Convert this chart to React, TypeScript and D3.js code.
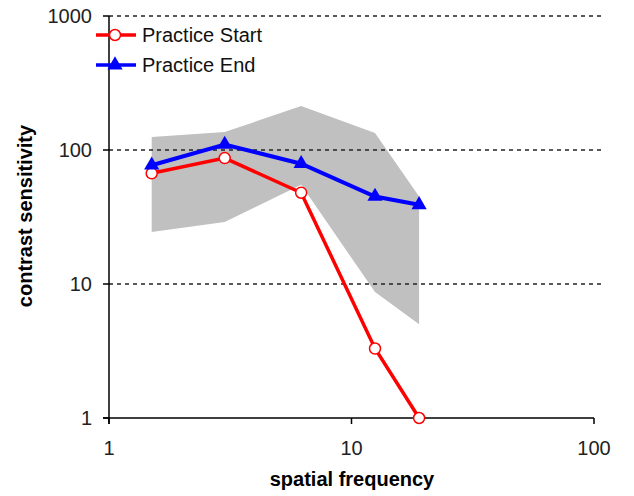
import React, { useEffect, useRef } from "react";
import * as d3 from "d3";

// spatial frequency (cycles/deg) of the tested conditions
const frequencies = [1.5, 3, 6.2, 12.5, 19];
const practiceStart = [67, 87, 48, 3.3, 1.0];
const practiceEnd = [77, 110, 79, 45, 39];
// grey normal range band
const bandUpper = [125, 136, 213, 134, 45];
const bandLower = [24.4, 29, 55, 8.7, 5.0];

const xTicks = [1, 10, 100];
const yTicks = [1, 10, 100, 1000];
const gridTicks = [10, 100, 1000];

const WIDTH = 634;
const HEIGHT = 496;

export default function App() {
  const svgRef = useRef<SVGSVGElement | null>(null);

  useEffect(() => {
    const svg = d3.select(svgRef.current);
    svg.selectAll("*").remove();

    const font = "'Liberation Sans', Arial, sans-serif";
    const x = d3.scaleLog().domain([1, 100]).range([109, 594]);
    const y = d3.scaleLog().domain([1, 1000]).range([418, 16]);

    // band
    const area = d3
      .area<number>()
      .x((_, i) => x(frequencies[i]))
      .y0((_, i) => y(bandLower[i]))
      .y1((d) => y(d));
    svg
      .append("path")
      .attr("d", area(bandUpper))
      .attr("fill", "#c0c0c0");

    // gridlines
    svg
      .append("g")
      .selectAll("line")
      .data(gridTicks)
      .join("line")
      .attr("x1", x(1))
      .attr("x2", 602)
      .attr("y1", (d) => y(d))
      .attr("y2", (d) => y(d))
      .attr("stroke", "#222")
      .attr("stroke-width", 1.5)
      .attr("stroke-dasharray", "4,4");

    // axes
    const axes = svg.append("g").attr("stroke", "#000").attr("stroke-width", 1.5);
    axes
      .append("line")
      .attr("x1", x(1) - 6)
      .attr("x2", x(100))
      .attr("y1", y(1))
      .attr("y2", y(1));
    axes
      .append("line")
      .attr("x1", x(1))
      .attr("x2", x(1))
      .attr("y1", y(1000))
      .attr("y2", y(1) + 6);
    axes
      .selectAll(".xt")
      .data(xTicks)
      .join("line")
      .attr("x1", (d) => x(d))
      .attr("x2", (d) => x(d))
      .attr("y1", y(1))
      .attr("y2", y(1) + 6);
    axes
      .selectAll(".yt")
      .data(yTicks)
      .join("line")
      .attr("x1", x(1) - 6)
      .attr("x2", x(1))
      .attr("y1", (d) => y(d))
      .attr("y2", (d) => y(d));

    svg
      .append("g")
      .selectAll("text")
      .data(xTicks)
      .join("text")
      .attr("x", (d) => x(d))
      .attr("y", 455)
      .attr("text-anchor", "middle")
      .attr("font-family", font)
      .attr("font-size", 20)
      .attr("fill", "#222")
      .text((d) => d);

    svg
      .append("g")
      .selectAll("text")
      .data(yTicks)
      .join("text")
      .attr("x", 92)
      .attr("y", (d) => y(d) + 7)
      .attr("text-anchor", "end")
      .attr("font-family", font)
      .attr("font-size", 20)
      .attr("fill", "#222")
      .text((d) => d);

    svg
      .append("text")
      .attr("x", 352)
      .attr("y", 486)
      .attr("text-anchor", "middle")
      .attr("font-family", font)
      .attr("font-size", 20)
      .attr("font-weight", "bold")
      .text("spatial frequency");

    svg
      .append("text")
      .attr("transform", "translate(32,216) rotate(-90)")
      .attr("text-anchor", "middle")
      .attr("font-family", font)
      .attr("font-size", 20)
      .attr("font-weight", "bold")
      .text("contrast sensitivity");

    const line = d3
      .line<number>()
      .x((_, i) => x(frequencies[i]))
      .y((d) => y(d));

    // practice start
    svg
      .append("path")
      .attr("d", line(practiceStart))
      .attr("fill", "none")
      .attr("stroke", "#ff0000")
      .attr("stroke-width", 3.5);
    svg
      .append("g")
      .selectAll("circle")
      .data(practiceStart)
      .join("circle")
      .attr("cx", (_, i) => x(frequencies[i]))
      .attr("cy", (d) => y(d))
      .attr("r", 5.5)
      .attr("fill", "#fff")
      .attr("stroke", "#ff0000")
      .attr("stroke-width", 1.5);

    // practice end
    const tri = d3.symbol().type(d3.symbolTriangle).size(100);
    svg
      .append("path")
      .attr("d", line(practiceEnd))
      .attr("fill", "none")
      .attr("stroke", "#0000ff")
      .attr("stroke-width", 4);
    svg
      .append("g")
      .selectAll("path")
      .data(practiceEnd)
      .join("path")
      .attr("transform", (d, i) => `translate(${x(frequencies[i])},${y(d)})`)
      .attr("d", tri() as string)
      .attr("fill", "#0000ff");

    // legend
    const legend = svg.append("g");
    const items = [
      { label: "Practice Start", color: "#ff0000", y: 35, marker: "circle" },
      { label: "Practice End", color: "#0000ff", y: 65, marker: "triangle" }
    ];
    items.forEach((item) => {
      legend
        .append("line")
        .attr("x1", 96)
        .attr("x2", 136)
        .attr("y1", item.y)
        .attr("y2", item.y)
        .attr("stroke", item.color)
        .attr("stroke-width", 3.5);
      if (item.marker === "circle") {
        legend
          .append("circle")
          .attr("cx", 115)
          .attr("cy", item.y)
          .attr("r", 5.5)
          .attr("fill", "#fff")
          .attr("stroke", item.color)
          .attr("stroke-width", 1.5);
      } else {
        legend
          .append("path")
          .attr("transform", `translate(115,${item.y})`)
          .attr("d", tri() as string)
          .attr("fill", item.color);
      }
      legend
        .append("text")
        .attr("x", 142)
        .attr("y", item.y + 7)
        .attr("font-family", font)
        .attr("font-size", 20)
        .attr("fill", "#111")
        .text(item.label);
    });
  }, []);

  return (
    <svg
      ref={svgRef}
      width={WIDTH}
      height={HEIGHT}
      style={{ position: "absolute", left: 0, top: 0, background: "#fff" }}
    />
  );
}
